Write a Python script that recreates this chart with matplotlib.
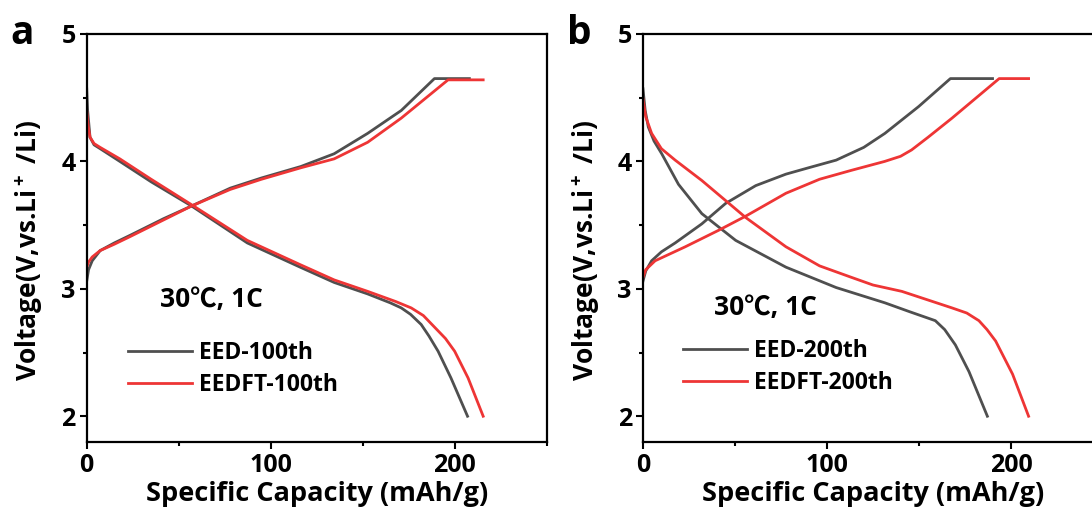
import matplotlib
matplotlib.use('Agg')
import matplotlib.pyplot as plt

plt.rcParams['font.family'] = ['Open Sans', 'Noto Sans CJK SC', 'DejaVu Sans']
plt.rcParams['font.weight'] = 'bold'
plt.rcParams['mathtext.default'] = 'bf'
plt.rcParams['mathtext.fontset'] = 'custom'
plt.rcParams['mathtext.bf'] = 'Open Sans:bold'

# panel a: 100th cycle (capacity mAh/g, voltage V)
a_eed_chg_x = [0, 1, 3, 7.3, 15, 23.6, 41.7, 57, 78, 95, 116.4, 134.5, 152.7, 171, 189, 208]
a_eed_chg_y = [3.06, 3.15, 3.22, 3.30, 3.36, 3.42, 3.55, 3.65, 3.79, 3.87, 3.96, 4.06, 4.22, 4.40, 4.65, 4.65]
a_eft_chg_x = [0, 1, 3, 7.3, 15, 23.6, 41.7, 57, 78, 95, 116.4, 134.5, 152.7, 171, 196.4, 215.5]
a_eft_chg_y = [3.17, 3.21, 3.25, 3.30, 3.35, 3.41, 3.54, 3.65, 3.78, 3.86, 3.95, 4.02, 4.15, 4.34, 4.64, 4.64]
a_eed_dis_x = [0, 0.5, 1.8, 4, 7.3, 18, 35, 57, 87.3, 116, 134.5, 152.7, 165, 171, 176, 181.8, 186, 191, 198, 207]
a_eed_dis_y = [4.57, 4.40, 4.19, 4.13, 4.10, 4.00, 3.84, 3.65, 3.36, 3.17, 3.05, 2.96, 2.89, 2.85, 2.80, 2.72, 2.63, 2.51, 2.30, 2.00]
a_eft_dis_x = [0, 0.8, 1.8, 4, 7.3, 18, 35, 57, 87.3, 116, 134.5, 152.7, 168, 176.4, 183, 189, 195, 200, 207.3, 215.5]
a_eft_dis_y = [4.40, 4.28, 4.19, 4.14, 4.11, 4.02, 3.86, 3.66, 3.38, 3.19, 3.07, 2.98, 2.90, 2.85, 2.79, 2.70, 2.61, 2.51, 2.30, 2.00]

# panel b: 200th cycle
b_eed_chg_x = [0, 1.5, 4.7, 10, 17.5, 32, 44.9, 61.3, 77.7, 90, 105, 120, 131.5, 149.8, 167.1, 190]
b_eed_chg_y = [3.06, 3.14, 3.22, 3.29, 3.36, 3.51, 3.67, 3.81, 3.90, 3.95, 4.01, 4.11, 4.22, 4.43, 4.65, 4.65]
b_eft_chg_x = [0, 1.5, 6.6, 23, 41.2, 55.8, 77.7, 96, 113.3, 131.4, 140, 146, 155, 168, 193.6, 209.6]
b_eft_chg_y = [3.09, 3.15, 3.22, 3.33, 3.46, 3.57, 3.75, 3.86, 3.93, 4.00, 4.04, 4.09, 4.19, 4.34, 4.65, 4.65]
b_eed_dis_x = [0, 1.2, 2.9, 6, 10.2, 19.3, 32, 50.4, 77.7, 105, 131.5, 145, 158.9, 164, 169.8, 177.2, 187.2]
b_eed_dis_y = [4.57, 4.40, 4.27, 4.16, 4.06, 3.82, 3.59, 3.38, 3.17, 3.01, 2.89, 2.82, 2.75, 2.68, 2.56, 2.35, 2.00]
b_eft_dis_x = [0, 1.5, 4.7, 10, 17.5, 32, 55.8, 77.7, 96, 113.3, 125, 140.7, 168, 176, 182.6, 187, 191.7, 200.9, 209.6]
b_eft_dis_y = [4.49, 4.35, 4.22, 4.10, 4.01, 3.85, 3.56, 3.33, 3.18, 3.09, 3.03, 2.98, 2.85, 2.81, 2.75, 2.68, 2.59, 2.33, 2.00]

GREY = '#4f4f4f'
RED = '#ee3535'

fig = plt.figure(figsize=(10.92, 5.15), dpi=100)
ax_a = fig.add_axes([0.0794, 0.1423, 0.4212, 0.7917])
ax_b = fig.add_axes([0.5888, 0.1423, 0.4212, 0.7917])


def draw_panel(ax, chg1, dis1, chg2, dis2, labels, letter, note_xy, leg_xy):
    ax.plot(chg1[0], chg1[1], color=GREY, lw=2.0, label=labels[0])
    ax.plot(dis1[0], dis1[1], color=GREY, lw=2.0)
    ax.plot(chg2[0], chg2[1], color=RED, lw=2.0, label=labels[1])
    ax.plot(dis2[0], dis2[1], color=RED, lw=2.0)
    ax.set_xlim(0, 250)
    ax.set_ylim(1.8, 5)
    ax.set_xticks([0, 100, 200])
    ax.set_xticks([50, 150, 250], minor=True)
    ax.set_yticks([2, 3, 4, 5])
    ax.set_yticks([2.5, 3.5, 4.5], minor=True)
    for s in ax.spines.values():
        s.set_linewidth(1.6)
    ax.tick_params(which='major', length=5, width=1.5, labelsize=18, pad=3)
    ax.tick_params(which='minor', length=3, width=1.5)
    for lb in ax.get_xticklabels() + ax.get_yticklabels():
        lb.set_fontweight('bold')
    ax.set_xlabel('Specific Capacity (mAh/g)', fontsize=19.5, fontweight='bold', labelpad=2)
    ax.set_ylabel('Voltage(V,vs.Li$^+$ /Li)', fontsize=19, fontweight='bold')
    ax.yaxis.set_label_coords(-0.09, 0.47)
    ax.text(note_xy[0], note_xy[1], '30℃, 1C', transform=ax.transAxes,
            fontsize=19, fontweight='bold', va='center', ha='left')
    ax.text(-0.165, 1.0, letter, transform=ax.transAxes, fontsize=28,
            fontweight='bold', va='center', ha='left')
    ax.legend(loc='upper left', bbox_to_anchor=leg_xy, frameon=False,
              handlelength=2.8, handletextpad=0.3,
              labelspacing=0.35, borderpad=0, borderaxespad=0,
              prop={'weight': 'bold', 'size': 16.5})


draw_panel(ax_a, (a_eed_chg_x, a_eed_chg_y), (a_eed_dis_x, a_eed_dis_y),
           (a_eft_chg_x, a_eft_chg_y), (a_eft_dis_x, a_eft_dis_y),
           ['EED-100th', 'EEDFT-100th'], 'a', (0.159, 0.348), (0.089, 0.247))
draw_panel(ax_b, (b_eed_chg_x, b_eed_chg_y), (b_eed_dis_x, b_eed_dis_y),
           (b_eft_chg_x, b_eft_chg_y), (b_eft_dis_x, b_eft_dis_y),
           ['EED-200th', 'EEDFT-200th'], 'b', (0.155, 0.329), (0.087, 0.252))

fig.savefig('out.png', dpi=100)
